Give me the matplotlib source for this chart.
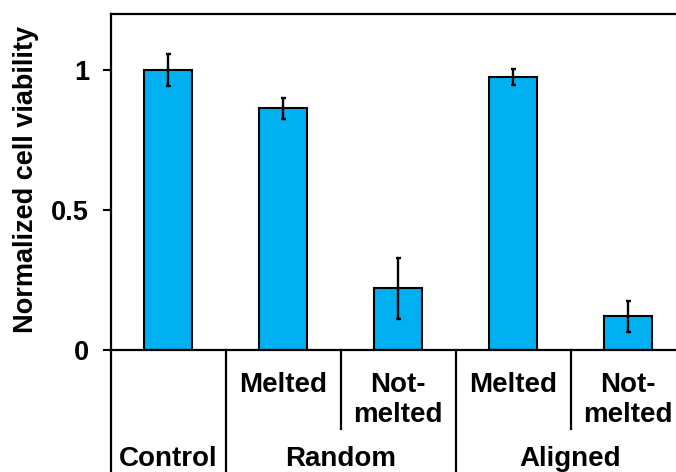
import numpy as np
import matplotlib
matplotlib.use('Agg')
import matplotlib.pyplot as plt
from matplotlib.transforms import blended_transform_factory

plt.rcParams['font.family'] = ['Liberation Sans', 'DejaVu Sans']
plt.rcParams['font.weight'] = 'bold'

# viability data
sub_labels = ['', 'Melted', 'Not-\nmelted', 'Melted', 'Not-\nmelted']
groups = ['Control', 'Random', 'Aligned']
group_spans = [(0, 0), (1, 2), (3, 4)]
viability = [1.0, 0.863, 0.220, 0.975, 0.121]
errors = [0.058, 0.038, 0.110, 0.028, 0.055]
yticks = [0, 0.5, 1]
ytick_labels = ['0', '0.5', '1']

W, H = 676, 472
fig = plt.figure(figsize=(W / 100, H / 100), dpi=100)
ax = fig.add_axes([110.5 / W, 1 - 350 / H, 575 / W, 336 / H])

x = np.arange(len(viability))
ax.bar(x, viability, width=0.41, color='#00B0F0', edgecolor='black', linewidth=1.5, zorder=2)
ax.errorbar(x, viability, yerr=errors, fmt='none', ecolor='black',
            elinewidth=1.7, capsize=1.8, capthick=1.7, zorder=3)

ax.set_xlim(-0.5, 4.5)
ax.set_ylim(0, 1.2)
ax.set_xticks([])
ax.set_yticks(yticks)
ax.set_yticklabels(ytick_labels, fontsize=19.5, fontweight='bold')
ax.tick_params(axis='y', direction='out', length=5.5, width=1.5, pad=10)
for s in ax.spines.values():
    s.set_linewidth(1.6)

fig.text(26 / W, 1 - 179 / H, 'Normalized cell viability', rotation=90,
         ha='center', va='center', fontsize=19.5, fontweight='bold')

# category table under the axis
trans = blended_transform_factory(ax.transData, fig.transFigure)
def ypix(p):
    return 1 - p / H

for xb in [-0.5, 0.5, 2.5, 4.5]:
    ax.plot([xb, xb], [ypix(350), ypix(H + 5)], color='black', lw=1.6,
            transform=trans, clip_on=False)
for xb in [1.5, 3.5]:
    ax.plot([xb, xb], [ypix(350), ypix(429)], color='black', lw=1.6,
            transform=trans, clip_on=False)

for i, lab in enumerate(sub_labels):
    if not lab:
        continue
    lines = lab.split('\n')
    for j, line in enumerate(lines):
        ax.text(i, ypix(391.5 + 30 * j), line, transform=trans, ha='center',
                va='baseline', fontsize=20, fontweight='bold')

for name, (a, b) in zip(groups, group_spans):
    ax.text((a + b) / 2, ypix(466), name, transform=trans, ha='center',
            va='baseline', fontsize=20, fontweight='bold')

fig.savefig('out.png', dpi=100)
